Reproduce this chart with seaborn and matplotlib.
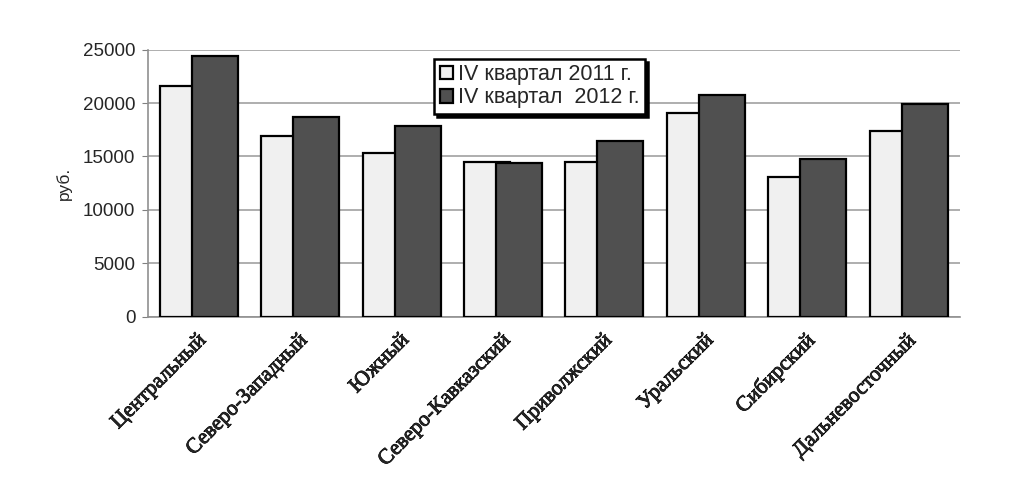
import numpy as np
import pandas as pd
import matplotlib
matplotlib.use('Agg')
import matplotlib.pyplot as plt
import matplotlib.patheffects as pe
import seaborn as sns

regions = ['Центральный', 'Северо-Западный', 'Южный', 'Северо-Кавказский',
           'Приволжский', 'Уральский', 'Сибирский', 'Дальневосточный']
q4_2011 = [21600, 16900, 15300, 14500, 14500, 19100, 13100, 17400]
q4_2012 = [24400, 18700, 17900, 14400, 16450, 20800, 14800, 19900]
series_labels = ['IV квартал 2011 г.', 'IV квартал  2012 г.']
yticks = [0, 5000, 10000, 15000, 20000, 25000]

sns.set_style('white')
plt.rcParams['font.family'] = ['Liberation Sans', 'DejaVu Sans']

fig = plt.figure(figsize=(10.34, 4.93), dpi=100)
ax = fig.add_axes([0.143, 0.358, 0.785, 0.541])

# bars overlap a bit inside each group, dark series drawn on top
pos = np.arange(len(regions))
shift = 0.158
bar_w = 0.453

df11 = pd.DataFrame({'pos': pos - shift, 'value': q4_2011})
df12 = pd.DataFrame({'pos': pos + shift, 'value': q4_2012})

sns.barplot(data=df11, x='pos', y='value', native_scale=True, width=bar_w,
            color='#f0f0f0', edgecolor='black', linewidth=1.6,
            saturation=1, label=series_labels[0], ax=ax, zorder=3)
sns.barplot(data=df12, x='pos', y='value', native_scale=True, width=bar_w,
            color='#505050', edgecolor='black', linewidth=1.6,
            saturation=1, label=series_labels[1], ax=ax, zorder=3)

ax.set_xlim(-0.5, len(regions) - 0.5)
ax.set_ylim(0, 25000)
ax.set_yticks(yticks)
ax.set_yticklabels([str(v) for v in yticks], fontsize=13.5)
ax.yaxis.grid(True, color='#a8a8a8', linewidth=1.3, zorder=0)
ax.set_axisbelow(True)

ax.set_xticks(pos + 0.05)
ax.set_xticklabels(regions, rotation=45, ha='right', va='center',
                   rotation_mode='anchor', family='Liberation Serif',
                   fontsize=15.5)
# the original labels look a bit heavier than plain Times
for lbl in ax.get_xticklabels():
    lbl.set_path_effects([pe.withStroke(linewidth=0.6, foreground='black')])
ax.set_xticks(np.arange(len(regions) + 1) - 0.5, minor=True)
ax.tick_params(axis='x', which='major', length=0, pad=15)
ax.tick_params(axis='x', which='minor', length=9, direction='inout',
               color='#808080', width=1)
ax.tick_params(axis='y', length=4, direction='out', color='#808080', pad=5, left=True)

ax.set_xlabel('')
ax.set_ylabel('руб.', fontsize=12.5, labelpad=8)

for side in ['top', 'right']:
    ax.spines[side].set_visible(False)
for side in ['left', 'bottom']:
    ax.spines[side].set_color('#909090')
    ax.spines[side].set_linewidth(1.2)

leg = ax.legend(loc='upper left', bbox_to_anchor=(0.353, 0.966),
                fontsize=15.5, frameon=True, fancybox=False,
                shadow={'color': 'black', 'alpha': 1},
                handlelength=0.6, handleheight=0.6, handletextpad=0.25,
                labelspacing=0.1, borderpad=0.25, borderaxespad=0)
leg.get_frame().set_edgecolor('black')
leg.get_frame().set_linewidth(1.8)

fig.savefig('out.png', dpi=100)
